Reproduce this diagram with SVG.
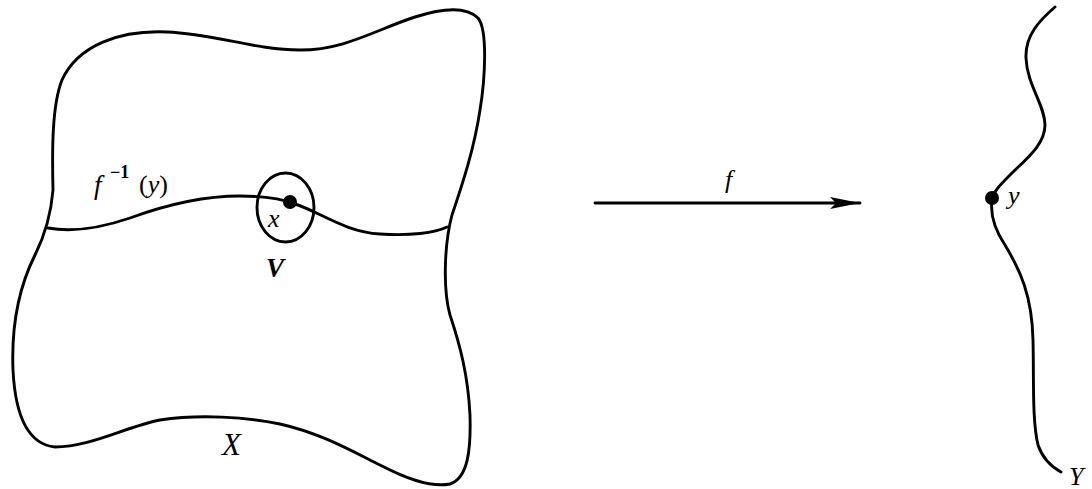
<svg xmlns="http://www.w3.org/2000/svg" width="1092" height="489" viewBox="0 0 1092 489">
<style>
.c{fill:none;stroke:#000;stroke-width:2.9;stroke-linecap:round;stroke-linejoin:round}
.t{font-family:"Liberation Serif",serif;font-style:italic;fill:#000}
.r{font-family:"Liberation Serif",serif;font-style:normal;fill:#000}
</style>
<defs>
<marker id="ah" markerUnits="userSpaceOnUse" markerWidth="32" markerHeight="14" refX="30" refY="7" orient="auto">
<path d="M0,1 L30,7 L0,13 L6,7 Z" fill="#000"/>
</marker>
</defs>
<g id="X">
<path class="c" d="M 53,190 C 52,150 52,105 62,80 C 78,45 120,30 167,32 C 215,34 255,50 300,50 C 345,50 375,30 415,17 C 440,9 465,5 478,18 C 488,30 485,80 480,110 C 474,150 462,185 452,215 C 444,245 443,290 450,315 C 460,345 468,375 470,415 C 471,450 468,478 450,484 C 430,488 405,478 380,465 C 350,450 320,433 280,424 C 245,417 200,414 160,420 C 125,427 90,447 55,447 C 25,444 15,410 13,370 C 11,320 20,285 35,255 C 45,235 51,215 53,190 Z"/>
<text class="t" x="222" y="455" font-size="31">X</text>
</g>
<g id="fiber">
<path class="c" d="M 48,228 C 70,232 95,230 130,218 C 160,207 200,196 240,196 C 265,196 285,200 295,204 C 320,212 345,232 380,234 C 410,236 435,233 447,227"/>
<text class="t" x="94" y="194" font-size="27">f</text>
<text class="r" x="110" y="178" font-size="18" font-weight="bold">−1</text>
<text class="r" x="139" y="193" font-size="26">(<tspan class="t">y</tspan>)</text>
</g>
<g id="V">
<ellipse class="c" cx="285.5" cy="207.5" rx="28.5" ry="34.5"/>
<circle cx="290" cy="202" r="7" fill="#000"/>
<text class="t" x="268" y="227" font-size="26">x</text>
<text class="t" x="266" y="277" font-size="27" font-weight="bold">V</text>
</g>
<g id="connectors">
<line class="c" x1="595" y1="203" x2="860" y2="203" stroke-width="3.2" marker-end="url(#ah)"/>
<text class="t" x="725" y="188" font-size="26">f</text>
</g>
<g id="Y">
<path class="c" d="M 1055,7 C 1040,20 1025,35 1026,58 C 1027,85 1045,105 1045,125 C 1045,145 1025,160 1010,175 C 1000,185 993,192 992,200 C 990,215 995,230 1005,245 C 1020,270 1032,295 1033,340 C 1034,380 1032,420 1038,445 C 1043,460 1052,467 1061,472"/>
<circle cx="992" cy="198" r="7" fill="#000"/>
<text class="t" x="1008" y="204" font-size="26">y</text>
<text class="t" x="1069" y="485" font-size="26">Y</text>
</g>
</svg>
